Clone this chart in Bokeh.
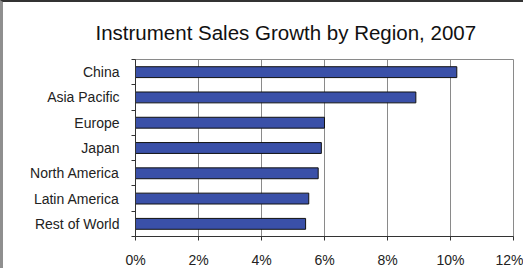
from bokeh.plotting import figure
from bokeh.models import Range1d, FixedTicker, PrintfTickFormatter, Title
from bokeh.embed import file_html
from bokeh.resources import INLINE

regions = ["China", "Asia Pacific", "Europe", "Japan", "North America", "Latin America", "Rest of World"]
growth = [10.2, 8.9, 6.0, 5.9, 5.8, 5.5, 5.4]
x_ticks = [0, 2, 4, 6, 8, 10, 12]
title_text = "Instrument Sales Growth by Region, 2007"

n = len(regions)
# first region at top
centers = [n - i - 0.5 for i in range(n)]
boundaries = list(range(n + 1))

p = figure(width=523, height=268, output_backend="svg", toolbar_location=None,
           x_range=Range1d(0, 12), y_range=Range1d(0, n),
           min_border_left=132, min_border_right=13, min_border_top=56, min_border_bottom=31)
p.title = None
t = Title(text=title_text, align="left", offset=-40, text_font="Liberation Sans",
          text_font_size="20.5px", text_font_style="normal", text_color="#111111", standoff=32)
p.add_layout(t, "above")

p.hbar(y=centers, right=growth, left=0, height=0.43, fill_color="#3a50a8",
       line_color="#111111", line_width=1)

p.outline_line_color="#8a8a8a"
p.outline_line_width=1
p.background_fill_color="white"
p.border_fill_color="white"

p.xaxis.ticker = FixedTicker(ticks=x_ticks)
p.xaxis.formatter = PrintfTickFormatter(format="%d%%")
p.xaxis.major_tick_in = 0
p.xaxis.major_tick_out = 4
p.xaxis.minor_tick_line_color = None
p.xaxis.axis_line_color = "#333333"
p.xaxis.major_tick_line_color = "#333333"
p.xaxis.major_label_text_font = "Liberation Sans"
p.xaxis.major_label_text_font_size = "14px"
p.xaxis.major_label_text_color = "#222222"
p.xaxis.major_label_standoff = 11

p.yaxis.ticker = FixedTicker(ticks=centers, minor_ticks=boundaries)
p.yaxis.major_label_overrides = {c: r for c, r in zip(centers, regions)}
p.yaxis.major_tick_line_color = None
p.yaxis.minor_tick_in = 0
p.yaxis.minor_tick_out = 4
p.yaxis.minor_tick_line_color = "#333333"
p.yaxis.axis_line_color = "#333333"
p.yaxis.major_label_text_font = "Liberation Sans"
p.yaxis.major_label_text_font_size = "14px"
p.yaxis.major_label_text_color = "#222222"
p.yaxis.major_label_standoff = 10

p.xgrid.ticker = FixedTicker(ticks=x_ticks)
p.xgrid.grid_line_color = "#8a8a8a"
p.ygrid.grid_line_color = None

p.styles = {"border-left": "3px solid #8f8f8f", "border-top": "2px solid #333333"}

open("out.html", "w").write(file_html(p, INLINE))
